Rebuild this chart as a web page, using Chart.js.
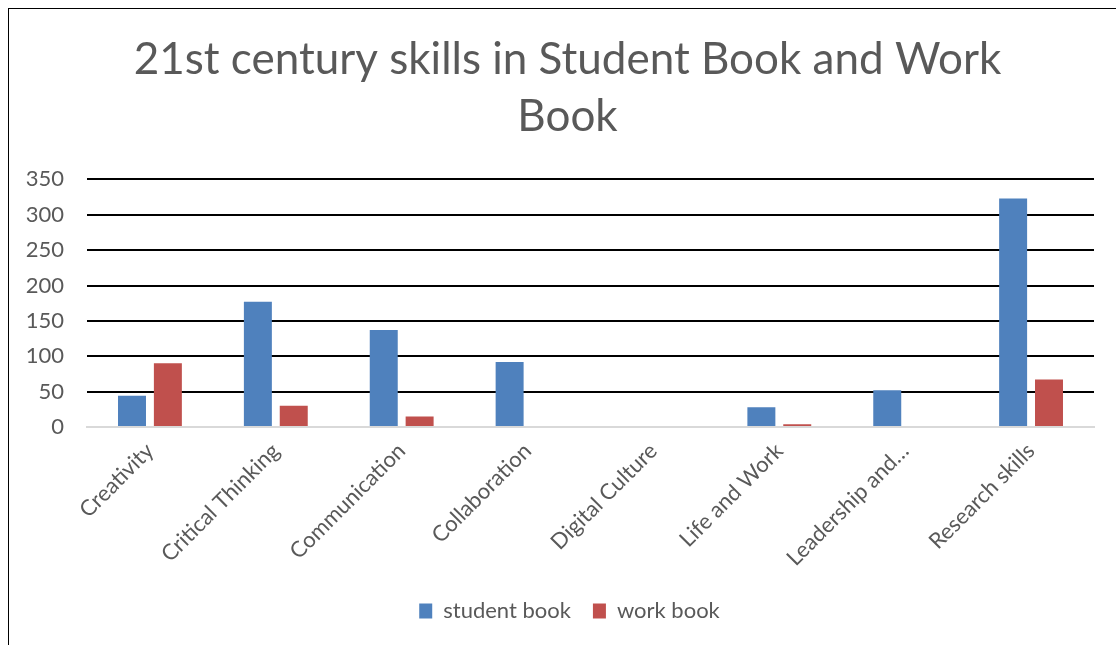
<!DOCTYPE html>
<html>
<head>
<meta charset="utf-8">
<script src="https://cdn.jsdelivr.net/npm/chart.js@4"></script>
<style>
  html, body { margin: 0; padding: 0; background: #fff; overflow: hidden; }
  #frame {
    position: absolute; left: 8px; top: 8px;
    width: 1120px; height: 660px;
    border-left: 1.5px solid #000; border-top: 1.5px solid #000;
  }
  #wrap { position: absolute; left: 9px; top: 9px; width: 1107px; height: 636px; }
</style>
</head>
<body>
<div id="frame"></div>
<div id="wrap"><canvas id="chart"></canvas></div>
<script>
const categories = ['Creativity', 'Critical Thinking', 'Communication', 'Collaboration',
  'Digital Culture', 'Life and Work', 'Leadership and\u2026', 'Research skills'];
const studentBook = [44, 177, 137, 92, 0, 28, 52, 323];
const workBook = [90, 30, 15, 0, 0, 4, 1.5, 67];
const yTicks = [0, 50, 100, 150, 200, 250, 300, 350];

const textColor = '#595959';
const fontFamily = 'Lato, "Open Sans", sans-serif';

// the title and legend sit a little right of the canvas centre in the original
const shiftBlocks = {
  id: 'shiftBlocks',
  afterLayout(chart) {
    if (chart.titleBlock) chart.titleBlock.left += 22;
    if (chart.legend) chart.legend.left += 26;
  }
};

const ctx = document.getElementById('chart').getContext('2d');
new Chart(ctx, {
  type: 'bar',
  data: {
    labels: categories,
    datasets: [
      { label: 'student book', data: studentBook, backgroundColor: '#4F81BD',
        categoryPercentage: 0.57, barPercentage: 0.78 },
      { label: 'work book', data: workBook, backgroundColor: '#C0504D',
        categoryPercentage: 0.57, barPercentage: 0.78 }
    ]
  },
  plugins: [shiftBlocks],
  options: {
    responsive: true,
    maintainAspectRatio: false,
    animation: false,
    layout: { padding: { left: 10, right: 22, top: 10, bottom: 13 } },
    plugins: {
      title: {
        display: true,
        text: ['21st century skills in Student Book and Work', 'Book'],
        color: textColor,
        font: { family: fontFamily, size: 44, weight: 'normal', lineHeight: 1.3 },
        padding: { top: 12, bottom: 34 }
      },
      legend: {
        position: 'bottom',
        labels: {
          color: textColor,
          font: { family: fontFamily, size: 22 },
          boxWidth: 13, boxHeight: 15, padding: 22
        }
      },
      tooltip: { enabled: false }
    },
    scales: {
      x: {
        afterFit: axis => { axis.height = 151; },
        grid: { display: false },
        border: { color: '#d9d9d9', width: 2 },
        ticks: {
          color: textColor,
          font: { family: fontFamily, size: 22 },
          minRotation: 45, maxRotation: 45, autoSkip: false
        }
      },
      y: {
        min: 0, max: 350,
        afterBuildTicks: axis => { axis.ticks = yTicks.map(v => ({ value: v })); },
        afterFit: axis => { axis.width = 68; },
        border: { display: false },
        grid: {
          color: c => c.tick && c.tick.value === 0 ? '#d9d9d9' : '#000',
          lineWidth: 2,
          drawTicks: false
        },
        ticks: {
          color: textColor,
          font: { family: fontFamily, size: 22 },
          padding: 23
        }
      }
    }
  }
});
</script>
</body>
</html>
